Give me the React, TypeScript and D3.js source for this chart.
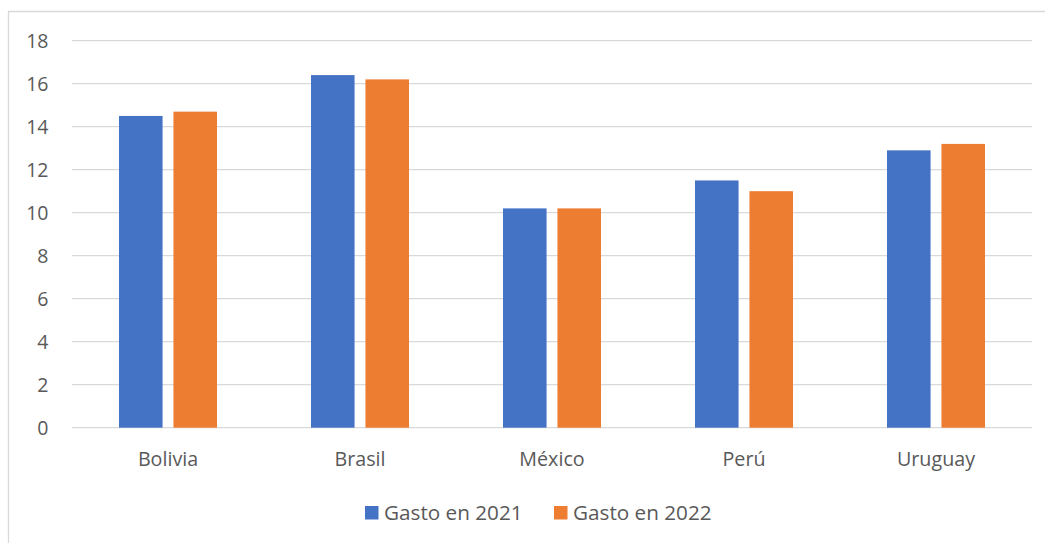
import React from "react";
import * as d3 from "d3";

const categories = ["Bolivia", "Brasil", "México", "Perú", "Uruguay"];
const seriesNames = ["Gasto en 2021", "Gasto en 2022"];
const gasto2021 = [14.5, 16.4, 10.2, 11.5, 12.9];
const gasto2022 = [14.7, 16.2, 10.2, 11.0, 13.2];
const yTicks = [0, 2, 4, 6, 8, 10, 12, 14, 16, 18];
const colors = ["#4472C4", "#ED7D31"];

const W = 1045;
const H = 543;
const FONT = "'Open Sans', 'Liberation Sans', sans-serif";
const TEXT = "#595959";

export default function App() {
  const values = [gasto2021, gasto2022];
  const x0 = d3.scaleBand<string>().domain(categories).range([72, 1032]);
  const x1 = d3
    .scaleBand<string>()
    .domain(seriesNames)
    .range([47, 145])
    .paddingInner(0.2);
  const y = d3.scaleLinear().domain([0, 18]).range([427.7, 40.7]);

  return (
    <svg
      width={W}
      height={H}
      style={{ position: "absolute", left: 0, top: 0, background: "#fff" }}
      fontFamily={FONT}
    >
      <rect x={0} y={0} width={W} height={H} fill="#fff" />
      <path d={`M8.5,${H + 2}V11.5H${W + 2}`} fill="none" stroke="#d9d9d9" strokeWidth={1.3} />
      {yTicks.map((t) => (
        <g key={t}>
          <line x1={72} x2={1032} y1={y(t)} y2={y(t)} stroke="#d9d9d9" strokeWidth={1.3} />
          <text
            x={48.5}
            y={y(t)}
            textAnchor="end"
            dominantBaseline="central"
            fill={TEXT}
            fontSize={19.5}
          >
            {t}
          </text>
        </g>
      ))}
      {categories.map((c, i) => (
        <g key={c} transform={`translate(${x0(c)},0)`}>
          {seriesNames.map((s, j) => (
            <rect
              key={s}
              x={x1(s)}
              y={y(values[j][i])}
              width={x1.bandwidth()}
              height={y(0) - y(values[j][i])}
              fill={colors[j]}
            />
          ))}
          <text
            x={x0.bandwidth() / 2}
            y={466}
            textAnchor="middle"
            fill={TEXT}
            fontSize={19.7}
          >
            {c}
          </text>
        </g>
      ))}
      {seriesNames.map((s, j) => {
        const lx = j === 0 ? 365 : 554;
        return (
          <g key={s}>
            <rect x={lx} y={506} width={13.5} height={13.5} fill={colors[j]} />
            <text x={lx + 19} y={519.5} fill={TEXT} fontSize={20.7}>
              {s}
            </text>
          </g>
        );
      })}
    </svg>
  );
}
